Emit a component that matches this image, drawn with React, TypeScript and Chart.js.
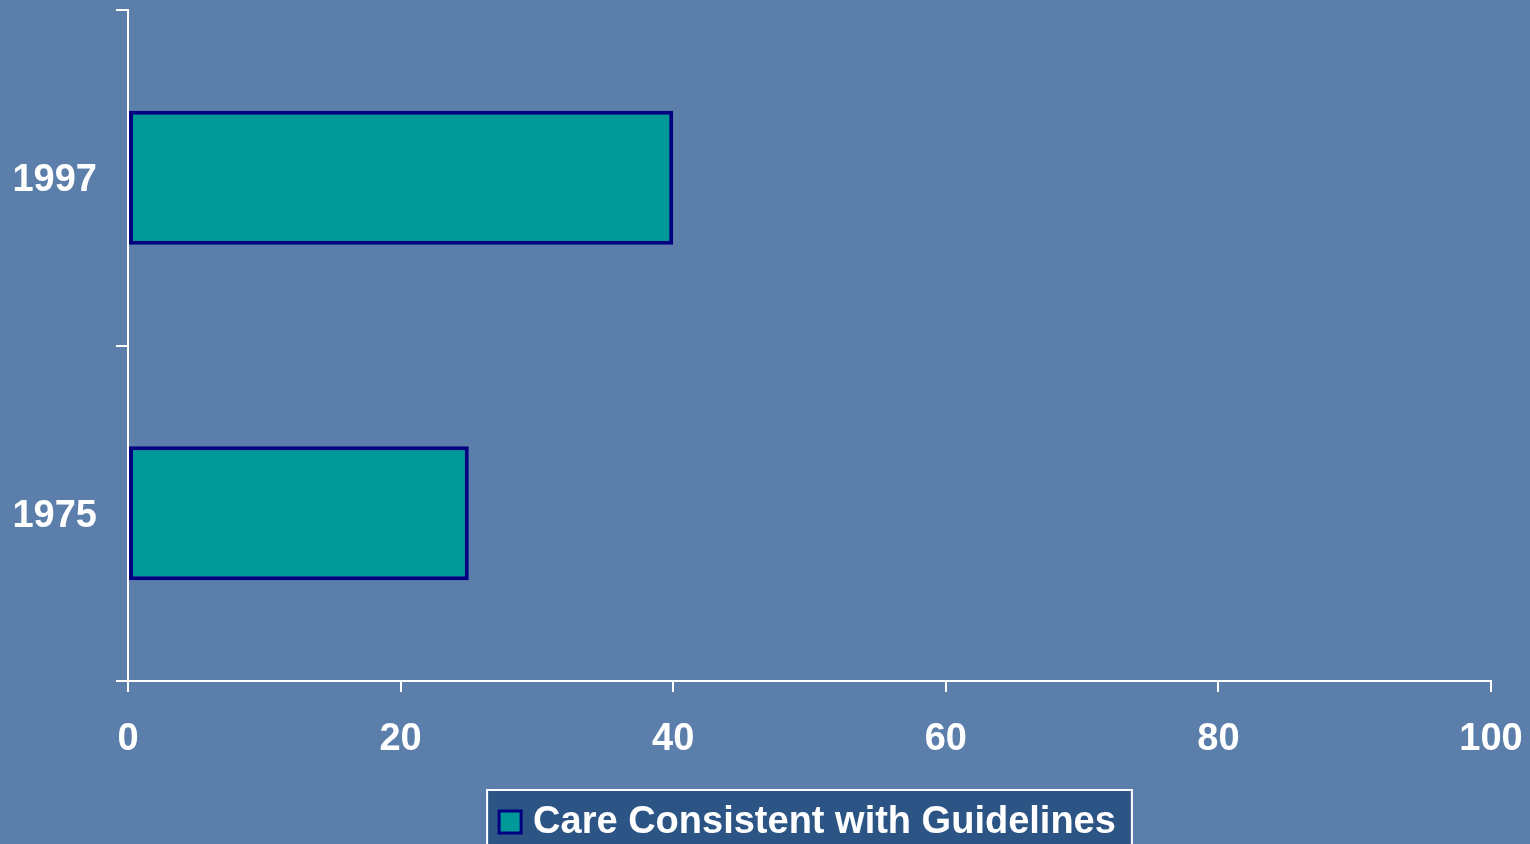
import React, { useEffect, useRef } from "react";
import { Chart, registerables } from "chart.js";

Chart.register(...registerables);

const categories = ["1997", "1975"];
const careValues = [40, 25];
const seriesLabel = "Care Consistent with Guidelines";
const xTicks = [0, 20, 40, 60, 80, 100];

const BG = "#5b7eab";
const BAR_FILL = "#009999";
const BAR_BORDER = "#000080";
const FONT = "'Liberation Sans', Arial, sans-serif";
const FONT_SIZE = 38;

const legendPlugin = {
  id: "boxLegend",
  afterDraw(chart: any) {
    const ctx = chart.ctx as CanvasRenderingContext2D;
    const ds = chart.data.datasets[0];
    const area = chart.chartArea;
    const cx = (area.left + area.right) / 2;
    ctx.save();
    ctx.font = `bold ${FONT_SIZE}px ${FONT}`;
    const tw = ctx.measureText(ds.label).width;
    const marker = 22;
    const gap = 12;
    const padX = 12;
    const boxW = padX + marker + gap + tw + 16;
    const boxX = cx - boxW / 2;
    const boxY = 790;
    const boxH = 70;
    ctx.fillStyle = "#2c5585";
    ctx.fillRect(boxX, boxY, boxW, boxH);
    ctx.strokeStyle = "#ffffff";
    ctx.lineWidth = 2;
    ctx.strokeRect(boxX, boxY, boxW, boxH);
    const my = 822;
    ctx.fillStyle = BAR_FILL;
    ctx.fillRect(boxX + padX, my - marker / 2, marker, marker);
    ctx.strokeStyle = BAR_BORDER;
    ctx.lineWidth = 3;
    ctx.strokeRect(boxX + padX, my - marker / 2, marker, marker);
    ctx.fillStyle = "#ffffff";
    ctx.textBaseline = "middle";
    ctx.textAlign = "left";
    ctx.fillText(ds.label, boxX + padX + marker + gap, my + 1);
    ctx.restore();
  },
};

function zeroPad(scale: any) {
  scale.paddingLeft = 0;
  scale.paddingRight = 0;
  scale.paddingTop = 0;
  scale.paddingBottom = 0;
}

export default function App() {
  const ref = useRef<HTMLCanvasElement>(null);
  useEffect(() => {
    document.body.style.margin = "0";
    const chart = new Chart(ref.current!, {
      type: "bar",
      data: {
        labels: categories,
        datasets: [
          {
            label: seriesLabel,
            data: careValues,
            backgroundColor: BAR_FILL,
            borderColor: BAR_BORDER,
            borderWidth: 4,
            borderSkipped: false,
            barPercentage: 0.4,
            categoryPercentage: 1,
          },
        ],
      },
      options: {
        indexAxis: "y",
        responsive: false,
        animation: false,
        layout: { padding: { top: 10, right: 39, left: 0, bottom: 0 } },
        plugins: { legend: { display: false }, tooltip: { enabled: false } },
        scales: {
          x: {
            min: 0,
            max: 100,
            afterBuildTicks(scale: any) {
              scale.ticks = xTicks.map((v) => ({ value: v }));
            },
            afterFit(scale: any) {
              scale.height = 163;
              zeroPad(scale);
            },
            ticks: {
              color: "#ffffff",
              font: { family: FONT, size: FONT_SIZE, weight: "bold" },
              padding: 25,
              maxRotation: 0,
            },
            grid: {
              drawOnChartArea: false,
              color: "#ffffff",
              lineWidth: 2,
              tickLength: 11,
            },
            border: { color: "#ffffff", width: 2 },
          },
          y: {
            afterFit(scale: any) {
              scale.width = 128;
              zeroPad(scale);
            },
            ticks: {
              color: "#ffffff",
              font: { family: FONT, size: FONT_SIZE, weight: "bold" },
              padding: 19,
              labelOffset: 3,
            },
            grid: {
              drawOnChartArea: false,
              color: "#ffffff",
              lineWidth: 2,
              tickLength: 12,
            },
            border: { color: "#ffffff", width: 2 },
          },
        },
      },
      plugins: [legendPlugin],
    });
    return () => chart.destroy();
  }, []);
  return (
    <div style={{ position: "absolute", left: 0, top: 0, width: 1530, height: 844, background: BG, overflow: "hidden" }}>
      <canvas ref={ref} width={1530} height={844} />
    </div>
  );
}
